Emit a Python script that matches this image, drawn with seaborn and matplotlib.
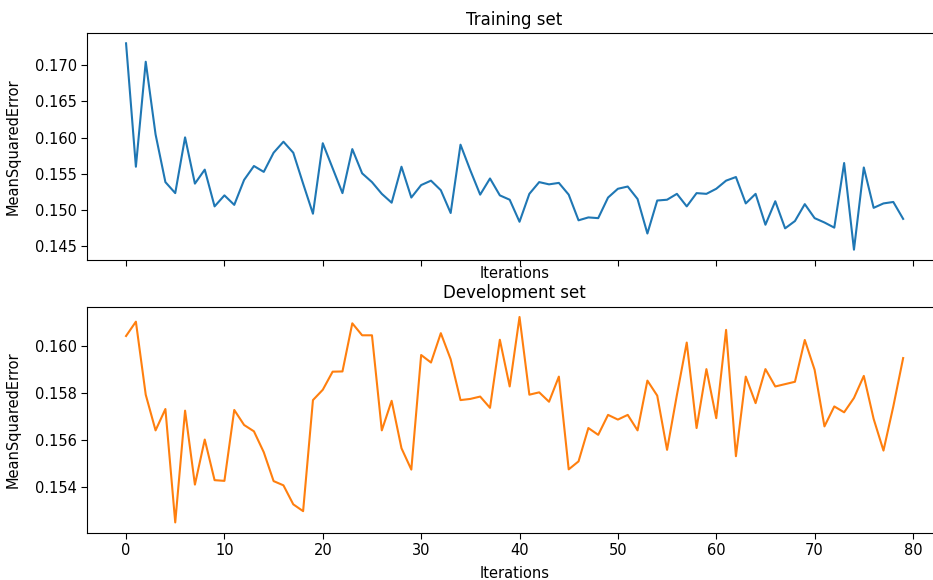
import numpy as np
import pandas as pd
import matplotlib
matplotlib.use("Agg")
import matplotlib.pyplot as plt
import seaborn as sns

iterations = list(range(80))

train_mse = [
    0.17302, 0.15600, 0.17048, 0.16046, 0.15388, 0.15236, 0.16005, 0.15367, 0.15560, 0.15053,
    0.15205, 0.15074, 0.15418, 0.15610, 0.15529, 0.15793, 0.15945, 0.15793, 0.15367, 0.14952,
    0.15924, 0.15580, 0.15236, 0.15843, 0.15509, 0.15388, 0.15226, 0.15104, 0.15600, 0.15175,
    0.15347, 0.15408, 0.15276, 0.14962, 0.15904, 0.15550, 0.15215, 0.15438, 0.15205, 0.15145,
    0.14841, 0.15226, 0.15388, 0.15357, 0.15377, 0.15215, 0.14861, 0.14901, 0.14891, 0.15175,
    0.15296, 0.15327, 0.15155, 0.14679, 0.15134, 0.15145, 0.15226, 0.15053, 0.15236, 0.15226,
    0.15296, 0.15408, 0.15458, 0.15094, 0.15226, 0.14800, 0.15124, 0.14750, 0.14851, 0.15084,
    0.14891, 0.14831, 0.14760, 0.15651, 0.14456, 0.15590, 0.15033, 0.15094, 0.15114, 0.14881,
]

dev_mse = [
    0.16044, 0.16105, 0.15794, 0.15642, 0.15733, 0.15250, 0.15726, 0.15411, 0.15603, 0.15430,
    0.15427, 0.15729, 0.15665, 0.15638, 0.15549, 0.15426, 0.15408, 0.15327, 0.15298, 0.15771,
    0.15815, 0.15892, 0.15893, 0.16098, 0.16047, 0.16047, 0.15642, 0.15768, 0.15566, 0.15475,
    0.15963, 0.15931, 0.16056, 0.15945, 0.15771, 0.15776, 0.15786, 0.15738, 0.16028, 0.15829,
    0.16125, 0.15794, 0.15804, 0.15764, 0.15871, 0.15476, 0.15510, 0.15652, 0.15623, 0.15708,
    0.15688, 0.15708, 0.15642, 0.15854, 0.15790, 0.15559, 0.15793, 0.16016, 0.15652, 0.15903,
    0.15694, 0.16070, 0.15532, 0.15871, 0.15758, 0.15903, 0.15829, 0.15839, 0.15849, 0.16027,
    0.15900, 0.15659, 0.15744, 0.15719, 0.15780, 0.15874, 0.15691, 0.15556, 0.15744, 0.15950,
]

df = pd.DataFrame({"Iterations": iterations, "train": train_mse, "dev": dev_mse})

fig = plt.figure(figsize=(9.33, 5.8), dpi=100)
W, H = 933.0, 580.0
left = 87.2 / W
width = (942.0 - 87.2) / W
ax1 = fig.add_axes([left, 1 - 260.0 / H, width, 227.0 / H])
ax2 = fig.add_axes([left, 1 - 532.7 / H, width, 226.0 / H], sharex=ax1)

sns.lineplot(data=df, x="Iterations", y="train", ax=ax1, color="#1f77b4", linewidth=1.5)
sns.lineplot(data=df, x="Iterations", y="dev", ax=ax2, color="#ff7f0e", linewidth=1.5)

ax1.set_title("Training set", fontsize=12)
ax2.set_title("Development set", fontsize=12)
for ax in (ax1, ax2):
    ax.set_ylabel("MeanSquaredError", fontsize=10.5, labelpad=10)
    ax.tick_params(labelsize=10.5, length=4)
ax1.set_xlabel("Iterations", fontsize=10.5, labelpad=0)
ax2.set_xlabel("Iterations", fontsize=10.5, labelpad=6)
ax1.tick_params(labelbottom=False)
ax1.set_xticks([0, 10, 20, 30, 40, 50, 60, 70, 80])

fig.savefig("out.png", dpi=100)
